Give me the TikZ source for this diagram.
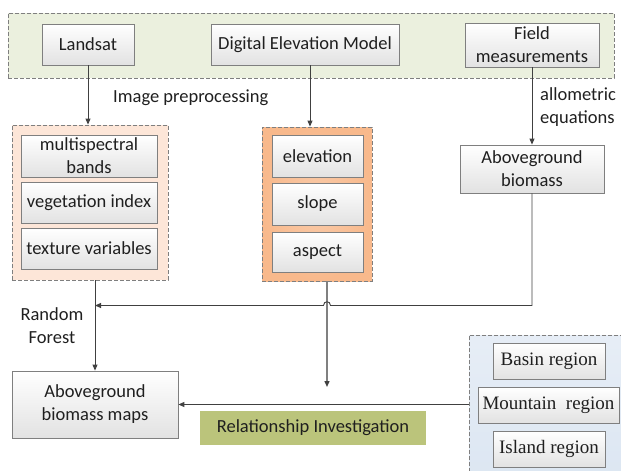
\documentclass[tikz,border=0pt]{standalone}
\usepackage{fontspec}
\setmainfont{Carlito}
\newfontfamily\regionfont{Liberation Serif}
\usetikzlibrary{arrows.meta,calc}
\definecolor{txt}{HTML}{1F1F1F}
\definecolor{linegray}{HTML}{404040}
\definecolor{boxgray}{HTML}{7F7F7F}
\definecolor{boxbottom}{HTML}{E2E2E2}
\definecolor{greenfill}{HTML}{EBF0DE}
\definecolor{peach}{HTML}{FDE6D8}
\definecolor{orangefill}{HTML}{F8B98C}
\definecolor{bluefill}{HTML}{DCE6F2}
\definecolor{olive}{HTML}{BBC47B}
\begin{document}
\begin{tikzpicture}[x=1pt,y=-1pt,
  txtfont/.style={font=\fontsize{18.5}{23}\selectfont, text=txt},
  box/.style={draw=boxgray, line width=0.8pt, top color=white, bottom color=boxbottom,
    inner sep=0pt, align=center, txtfont},
  rbox/.style={box, font=\regionfont\fontsize{19}{23}\selectfont},
  grp/.style={draw=boxgray, dash pattern=on 4pt off 2pt, line width=0.8pt, inner sep=0pt},
  lbl/.style={txtfont, inner sep=0pt},
  arr/.style={draw=linegray, line width=0.9pt, -{Triangle[length=6pt,width=5pt]}},
  arrg/.style={draw=gray, line width=1.4pt, -{Triangle[length=6pt,width=5pt,color=linegray]}}
]
\useasboundingbox (0,0) rectangle (621,471);
\begin{scope}
\clip (0,0) rectangle (621,471);
% group boxes
\node[grp, fill=greenfill, minimum width=606pt, minimum height=65pt] (topgrp) at (311,45.5) {};
\node[grp, fill=peach, minimum width=156pt, minimum height=155pt] (lightbox) at (90,202.5) {};
\node[grp, inner color=orangefill!75, outer color=orangefill, minimum width=110pt, minimum height=154pt] (orangebox) at (317,204) {};
\node[grp, top color=bluefill!70, bottom color=bluefill, minimum width=161pt, minimum height=145pt] (bluebox) at (549.5,407.5) {};
% sources
\node[box, minimum width=92pt, minimum height=41pt] (landsat) at (88,44.5) {Landsat};
\node[box, minimum width=188pt, minimum height=41pt] (dem) at (305,44.5) {Digital Elevation Model};
\node[box, minimum width=134pt, minimum height=44pt] (field) at (532,45) {Field\\measurements};
% spectral group
\node[box, minimum width=136pt, minimum height=42pt] (mb) at (89,156) {multispectral\\bands};
\node[box, minimum width=136pt, minimum height=41pt] (vi) at (89,202.5) {vegetation index};
\node[box, minimum width=136pt, minimum height=41pt] (tv) at (89,248.5) {texture variables};
% terrain group
\node[box, minimum width=91pt, minimum height=42pt] (elev) at (317.5,156) {elevation};
\node[box, minimum width=91pt, minimum height=42pt] (slope) at (317.5,204) {slope};
\node[box, minimum width=91pt, minimum height=40pt] (aspect) at (317.5,252) {aspect};
% biomass
\node[box, minimum width=144pt, minimum height=48pt] (agb) at (532,169) {Aboveground\\biomass};
\node[box, minimum width=166pt, minimum height=67pt] (maps) at (95,404.5) {Aboveground\\biomass maps};
\node[txtfont, fill=olive, inner sep=0pt, minimum width=226pt, minimum height=34pt] (rel) at (313,428) {Relationship Investigation};
% regions
\node[rbox, minimum width=112pt, minimum height=36pt] (basin) at (549,361) {Basin region};
\node[rbox, minimum width=141pt, minimum height=36pt] (mountain) at (548.5,405) {Mountain\ \ region};
\node[rbox, minimum width=112pt, minimum height=36pt] (island) at (549,449) {Island region};
% labels
\node[lbl, anchor=west] (imgpre) at (113,98) {Image preprocessing};
\node[lbl, anchor=west, align=left] (allo) at (540,107) {allometric\\equations};
\node[lbl, align=center] (rf) at (52,326) {Random\\Forest};
% coordinates
\coordinate (rfj) at (95,305.5);
\coordinate (ox) at ([xshift=10pt]orangebox.south);
\coordinate (relend) at (327,387);
% connectors
\draw[arr] (landsat.south) -- (landsat.south |- lightbox.north);
\draw[arr] ([xshift=5pt]dem.south) -- ([xshift=5pt]dem.south |- orangebox.north);
\draw[arr] (field.south) -- (agb.north);
\draw[arr] (maps.north |- lightbox.south) -- (maps.north);
\draw[arrg] (ox) -- (relend);
\draw[arr] (agb.south) -- (agb.south |- rfj) -- (330.5,305.5) .. controls (330.5,300.5) and (323.5,300.5) .. (323.5,305.5) -- (rfj);
\draw[arr] (bluebox.west |- maps.east) -- (maps.east);
\end{scope}
\end{tikzpicture}
\end{document}
